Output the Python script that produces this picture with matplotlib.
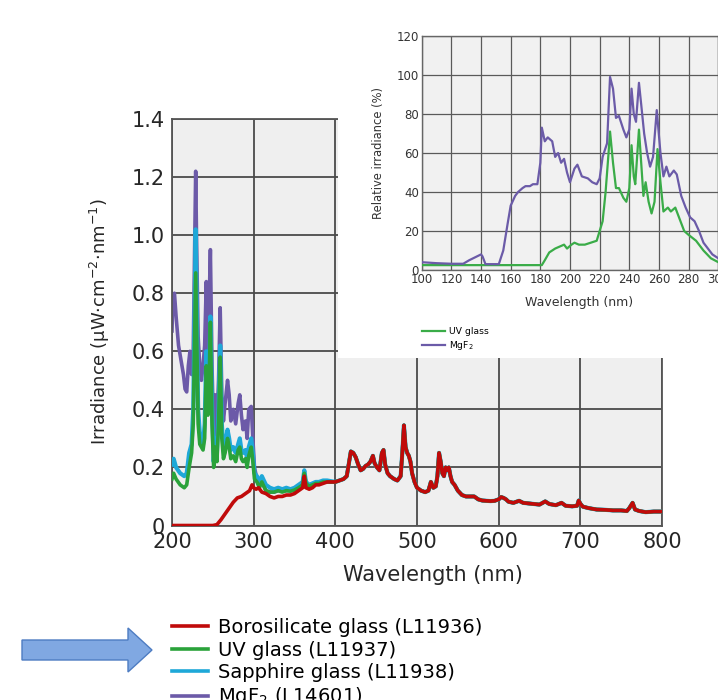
import matplotlib
matplotlib.use("agg")
import matplotlib.pyplot as plt
from matplotlib.patches import Rectangle, FancyArrow
from matplotlib.lines import Line2D

plt.rcParams["font.family"] = ["DejaVu Sans"]

# ---- main chart data (irradiance, uW cm-2 nm-1) ----
# UV part, own for every window
mgf2_wl = [200, 201, 203, 205, 208, 211, 214, 216, 218, 220, 222, 224, 226, 228, 229, 230,
           232, 234, 236, 238, 240, 242, 244, 245, 247, 249, 251, 253, 255, 257, 259, 261,
           263, 265, 268, 270, 272, 275, 278, 281, 283, 285, 287, 290, 292, 294, 297, 299,
           301, 304, 307, 310, 315, 320, 325, 330, 340, 350, 355, 360, 362, 364, 368, 376, 385, 390]
mgf2_val = [0.67, 0.78, 0.80, 0.72, 0.62, 0.57, 0.52, 0.47, 0.46, 0.55, 0.60, 0.52, 0.60, 1.00, 1.22, 1.00,
            0.65, 0.55, 0.50, 0.55, 0.62, 0.84, 0.60, 0.70, 0.95, 0.55, 0.30, 0.45, 0.35, 0.50, 0.75, 0.45,
            0.36, 0.42, 0.50, 0.45, 0.36, 0.40, 0.35, 0.42, 0.45, 0.38, 0.33, 0.36, 0.30, 0.40, 0.41, 0.30,
            0.20, 0.16, 0.14, 0.15, 0.12, 0.115, 0.115, 0.12, 0.12, 0.122, 0.13, 0.14, 0.18, 0.145, 0.135, 0.145, 0.15, 0.15]

uv_wl = [200, 202, 205, 210, 215, 218, 221, 224, 226, 228, 229, 230, 232, 234, 236, 238, 240,
         242, 244, 245, 247, 249, 251, 253, 255, 257, 259, 261, 263, 265, 268, 270, 272, 275,
         278, 281, 283, 285, 287, 290, 292, 294, 297, 299, 301, 304, 307, 310, 315, 320,
         325, 330, 335, 340, 345, 350, 355, 360, 362, 364, 368, 372, 376, 380, 385, 390]
sapphire_val = [0.21, 0.23, 0.20, 0.18, 0.17, 0.18, 0.25, 0.28, 0.40, 0.80, 1.02, 0.80, 0.40, 0.32, 0.30, 0.28, 0.35,
                0.60, 0.42, 0.45, 0.72, 0.42, 0.22, 0.30, 0.25, 0.40, 0.62, 0.35, 0.26, 0.28, 0.33, 0.30, 0.26, 0.27,
                0.25, 0.28, 0.30, 0.26, 0.25, 0.26, 0.23, 0.27, 0.30, 0.25, 0.18, 0.17, 0.15, 0.17, 0.14, 0.13,
                0.125, 0.13, 0.125, 0.13, 0.125, 0.13, 0.14, 0.15, 0.19, 0.15, 0.14, 0.145, 0.15, 0.15, 0.155, 0.155]
uvglass_val = [0.16, 0.18, 0.16, 0.14, 0.13, 0.14, 0.20, 0.25, 0.35, 0.70, 0.87, 0.70, 0.35, 0.28, 0.27, 0.26, 0.30,
               0.55, 0.38, 0.42, 0.70, 0.35, 0.20, 0.27, 0.22, 0.35, 0.58, 0.30, 0.23, 0.25, 0.30, 0.27, 0.23, 0.24,
               0.22, 0.26, 0.27, 0.23, 0.22, 0.23, 0.20, 0.24, 0.27, 0.22, 0.16, 0.15, 0.13, 0.15, 0.12, 0.115,
               0.115, 0.12, 0.115, 0.12, 0.118, 0.122, 0.13, 0.14, 0.18, 0.145, 0.135, 0.14, 0.145, 0.145, 0.15, 0.15]

boro_wl = [200, 250, 255, 260, 265, 270, 275, 280, 285, 290, 295, 298, 300, 303, 306, 310, 315, 320,
           325, 330, 335, 340, 345, 350, 355, 360, 362, 364, 368, 372, 376, 380, 385, 390]
boro_val = [0.0, 0.0, 0.003, 0.02, 0.04, 0.06, 0.08, 0.095, 0.10, 0.11, 0.12, 0.14, 0.13, 0.125, 0.13, 0.115, 0.11, 0.10,
            0.095, 0.10, 0.10, 0.105, 0.105, 0.11, 0.12, 0.13, 0.17, 0.13, 0.125, 0.13, 0.14, 0.14, 0.145, 0.15]

# visible part: all four windows coincide here
vis_wl = [400, 405, 410, 414, 417, 419, 422, 425, 428, 431, 434, 437, 440, 443, 446, 448, 451, 454,
          457, 459, 461, 464, 467, 472, 476, 480, 482, 484, 486, 488, 490, 492, 494, 497, 500, 505,
          510, 514, 517, 520, 523, 525, 527, 529, 531, 533, 535, 537, 539, 541, 543, 546, 550, 555,
          560, 565, 570, 575, 580, 585, 590, 595, 600, 603, 606, 609, 612, 618, 625, 630, 640, 650,
          657, 662, 670, 677, 682, 690, 696, 698, 700, 703, 710, 720, 730, 740, 750, 757, 760, 764,
          767, 772, 780, 790, 800]
vis_val = [0.15, 0.155, 0.16, 0.17, 0.22, 0.255, 0.25, 0.235, 0.21, 0.19, 0.195, 0.205, 0.21, 0.22, 0.24, 0.215, 0.20, 0.19,
           0.25, 0.26, 0.21, 0.18, 0.17, 0.16, 0.155, 0.17, 0.25, 0.345, 0.27, 0.25, 0.24, 0.22, 0.18, 0.15, 0.13, 0.12,
           0.115, 0.12, 0.15, 0.13, 0.135, 0.17, 0.25, 0.22, 0.18, 0.17, 0.20, 0.19, 0.20, 0.17, 0.15, 0.14, 0.12, 0.105,
           0.10, 0.10, 0.10, 0.09, 0.086, 0.085, 0.084, 0.085, 0.09, 0.098, 0.095, 0.09, 0.082, 0.078, 0.085, 0.078, 0.075, 0.072,
           0.083, 0.074, 0.07, 0.078, 0.068, 0.066, 0.068, 0.086, 0.075, 0.065, 0.06, 0.055, 0.054, 0.052, 0.052, 0.05, 0.06, 0.078,
           0.055, 0.05, 0.046, 0.048, 0.048]

# ---- inset data (relative irradiance, %) ----
in_mgf2_wl = [100, 110, 120, 128, 132, 136, 140, 141, 143, 148, 152, 155, 158, 160, 163, 165, 168, 170,
              173, 175, 178, 180, 181, 183, 185, 188, 190, 192, 194, 196, 198, 200, 203, 205, 208, 212,
              215, 218, 220, 222, 225, 227, 229, 231, 233, 236, 238, 240, 241.5, 243, 244.5, 246.5, 248,
              250, 252, 254, 256, 258.5, 261, 263, 265, 267, 270, 272, 275, 278, 281, 284, 287, 290,
              293, 296, 300]
in_mgf2_val = [4, 3.5, 3.2, 3.2, 5, 6.5, 8, 7, 3, 3, 3, 10, 24, 33, 38, 40, 42, 43,
               43, 44, 44, 55, 73, 66, 68, 66, 58, 60, 55, 57, 50, 45, 52, 54, 48, 47,
               45, 44, 47, 58, 65, 99, 93, 78, 79, 72, 68, 72, 93, 80, 76, 96, 85,
               70, 60, 53, 58, 82, 60, 48, 53, 48, 51, 49, 38, 32, 27, 25, 20, 14,
               11, 8, 6]
in_uv_wl = [100, 120, 140, 160, 181, 183, 186, 190, 193, 196, 198, 201, 203, 206, 210, 214, 218,
            220, 222, 224, 226, 227, 229, 231, 233, 236, 238, 240, 241.5, 243, 244, 246.5, 248,
            249.5, 251, 253, 255, 257, 259, 261, 263, 266, 268, 271, 274, 277, 280, 285, 290, 295, 300]
in_uv_val = [2.5, 2.5, 2.5, 2.5, 2.5, 5, 9, 11, 12, 13, 11, 13, 14, 13, 13, 14, 15,
             20, 25, 40, 60, 71, 55, 42, 42, 37, 35, 42, 64, 48, 44, 72, 55,
             38, 45, 35, 29, 35, 62, 45, 30, 32, 30, 32, 26, 20, 18, 15, 10, 6, 4]

main_ticks_x = [200, 300, 400, 500, 600, 700, 800]
main_ticks_y = [0, 0.2, 0.4, 0.6, 0.8, 1.0, 1.2, 1.4]
main_tick_labels_y = ["0", "0.2", "0.4", "0.6", "0.8", "1.0", "1.2", "1.4"]
inset_ticks_x = list(range(100, 301, 20))
inset_ticks_y = list(range(0, 121, 20))

labels = ["Borosilicate glass (L11936)", "UV glass (L11937)",
          "Sapphire glass (L11938)", "MgF$_2$ (L14601)"]

RED = "#c00a0a"
GREEN = "#2aa23a"
CYAN = "#1ea8d8"
PURPLE = "#6c5aa8"
TXT = "#262626"

W, H = 718, 700
fig = plt.figure(figsize=(W / 100, H / 100), dpi=100)
fig.patch.set_facecolor("white")

# main axes
ax = fig.add_axes([172 / W, 1 - 525.5 / H, (662 - 172) / W, (525.5 - 119) / H])
ax.set_facecolor("#efefef")
ax.plot(mgf2_wl + vis_wl, mgf2_val + vis_val, color=PURPLE, lw=2.6, zorder=2)
ax.plot(uv_wl + vis_wl, sapphire_val + vis_val, color=CYAN, lw=3.0, zorder=3)
ax.plot(uv_wl + vis_wl, uvglass_val + vis_val, color=GREEN, lw=2.6, zorder=4)
ax.plot(boro_wl + vis_wl, boro_val + vis_val, color=RED, lw=2.6, zorder=5)
ax.set_xlim(200, 800)
ax.set_ylim(0, 1.4)
ax.set_xticks(main_ticks_x)
ax.set_yticks(main_ticks_y)
ax.set_yticklabels(main_tick_labels_y)
ax.grid(True, color="#4a4a4a", lw=1.3)
ax.set_axisbelow(True)
ax.tick_params(length=0, labelsize=15, colors=TXT)
ax.tick_params(axis="x", pad=4.5)
ax.tick_params(axis="y", pad=5)
for s in ax.spines.values():
    s.set_color("#555555")
    s.set_linewidth(1.3)

fig.text(433 / W, 1 - 575 / H, "Wavelength (nm)", ha="center", va="center",
         fontsize=15, color=TXT)
fig.text(100 / W, 1 - 322 / H, r"Irradiance (µW·cm$^{-2}$·nm$^{-1}$)", rotation=90,
         ha="center", va="center", fontsize=13, color=TXT)

# white panel behind the inset
fig.patches.append(Rectangle((338 / W, 1 - 358 / H), 1, 1, transform=fig.transFigure,
                             facecolor="white", edgecolor="none", zorder=1))

# inset axes
ix = fig.add_axes([421.7 / W, 1 - 270 / H, (718.3 - 421.7) / W, (270 - 36) / H])
ix.set_zorder(2)
ix.set_facecolor("#f1f1f1")
ix.plot(in_uv_wl, in_uv_val, color="#3aac48", lw=1.6, zorder=3)
ix.plot(in_mgf2_wl, in_mgf2_val, color="#6b5ba8", lw=1.6, zorder=4)
ix.set_xlim(100, 300)
ix.set_ylim(0, 120)
ix.set_xticks(inset_ticks_x)
ix.set_yticks(inset_ticks_y)
ix.grid(True, color="#5a5a5a", lw=0.9)
ix.set_axisbelow(True)
ix.tick_params(length=0, labelsize=8.5, pad=2, colors="#333333")
for s in ix.spines.values():
    s.set_color("#666666")
    s.set_linewidth(1.0)
fig.text(579 / W, 1 - 302 / H, "Wavelength (nm)", ha="center", va="center",
         fontsize=9, color="#333333")
fig.text(378 / W, 1 - 153 / H, "Relative irradiance (%)", rotation=90,
         ha="center", va="center", fontsize=8.3, color="#333333")
fig.legend(handles=[Line2D([], [], color="#3aac48", lw=1.6), Line2D([], [], color="#6b5ba8", lw=1.6)],
           labels=["UV glass", "MgF$_2$"], loc="upper left",
           bbox_to_anchor=(422 / W, 1 - 327 / H), frameon=False, fontsize=6.7,
           handlelength=2.5, handletextpad=0.4, labelspacing=0.3, borderpad=0, borderaxespad=0)

# main legend
handles = [Line2D([], [], color=RED, lw=2.6), Line2D([], [], color=GREEN, lw=2.6),
           Line2D([], [], color=CYAN, lw=2.6), Line2D([], [], color=PURPLE, lw=2.6)]
fig.legend(handles=handles, labels=labels, loc="upper left",
           bbox_to_anchor=(172 / W, 1 - 618 / H), frameon=False, fontsize=14,
           handlelength=1.85, handletextpad=0.5, labelspacing=0.18, borderpad=0, borderaxespad=0)

# pointer arrow
fig.patches.append(FancyArrow(0.22, 0.50, 1.30, 0, width=0.20, head_width=0.44,
                              head_length=0.24, length_includes_head=True,
                              transform=fig.dpi_scale_trans, facecolor="#80a8e2",
                              edgecolor="#4d7cc2", lw=1.0, zorder=3))

fig.savefig("out.png", dpi=100)
